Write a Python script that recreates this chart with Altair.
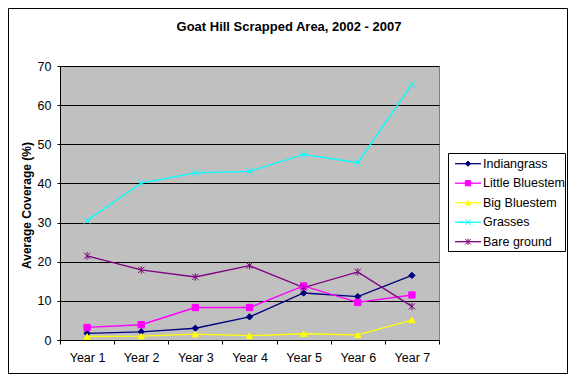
import altair as alt
import pandas as pd

title_text = "Goat Hill Scrapped Area, 2002 - 2007"
years = ["Year 1", "Year 2", "Year 3", "Year 4", "Year 5", "Year 6", "Year 7"]
series = ["Indiangrass", "Little Bluestem", "Big Bluestem", "Grasses", "Bare ground"]
indiangrass = [1.7, 2.1, 3.0, 5.9, 12.0, 11.1, 16.5]
little_bluestem = [3.2, 3.9, 8.3, 8.3, 13.8, 9.6, 11.5]
big_bluestem = [0.9, 1.0, 1.5, 1.1, 1.6, 1.3, 5.1]
grasses = [30.5, 40.1, 42.7, 43.1, 47.4, 45.3, 65.3]
bare_ground = [21.5, 17.9, 16.1, 19.0, 13.4, 17.4, 8.6]
y_ticks = [0, 10, 20, 30, 40, 50, 60, 70]

colors = ["#000080", "#FF00FF", "#FFFF00", "#00FFFF", "#800080"]
shapes = ["diamond", "square", "triangle-up",
          "M-1,-1L1,1M-1,1L1,-1",
          "M-1,-1L1,1M-1,1L1,-1M0,-1.2L0,1.2"]

values = [indiangrass, little_bluestem, big_bluestem, grasses, bare_ground]
rows = []
for s, vals in zip(series, values):
    for y, v in zip(years, vals):
        rows.append({"Year": y, "Series": s, "Value": v})
df = pd.DataFrame(rows)
leg_df = pd.DataFrame({"Series": series})

FONT = "Liberation Sans"
W, H = 379, 274

sc_stroke = alt.Scale(domain=series, range=colors)
sc_shape = alt.Scale(domain=series, range=shapes)

x_enc = alt.X("Year:N", sort=years,
              scale=alt.Scale(type="band", domain=years, paddingInner=0, paddingOuter=0),
              bandPosition=0.5,
              axis=alt.Axis(title=None, tickBand="extent", grid=False, labelAngle=0,
                            tickSize=4, labelPadding=7, domainColor="black",
                            tickColor="black", labelFont=FONT, labelFontSize=12.5,
                            labelColor="black"))
y_enc = alt.Y("Value:Q", scale=alt.Scale(domain=[0, 70], nice=False),
              axis=alt.Axis(values=y_ticks, tickCount=8, labelOverlap=False,
                            title="Average Coverage (%)",
                            titleFont=FONT, titleFontSize=12, titleFontWeight="bold",
                            titleColor="black", titleX=-27, titleY=139,
                            labelFont=FONT, labelFontSize=12.5, labelColor="black",
                            tickSize=3, labelPadding=6, domainColor="black",
                            tickColor="black", gridColor="black", gridOpacity=1,
                            gridWidth=1))

base = alt.Chart(df)
lines = base.mark_line(strokeWidth=1.3).encode(
    x=x_enc, y=y_enc,
    stroke=alt.Stroke("Series:N", scale=sc_stroke, legend=None),
    order=alt.Order("Year:N"),
)
points = base.mark_point(filled=True, size=40, strokeWidth=1, opacity=1).encode(
    x=x_enc, y=y_enc,
    shape=alt.Shape("Series:N", scale=sc_shape, legend=None),
    fill=alt.Fill("Series:N", scale=sc_stroke, legend=None),
    stroke=alt.Stroke("Series:N", scale=sc_stroke, legend=None),
)
main = alt.layer(lines, points)

one = alt.Data(values=[{"t": title_text}])
frame = alt.Chart(one).mark_rect(fill="transparent", stroke="black", strokeWidth=1).encode(
    x=alt.value(-51.5), x2=alt.value(507.5), y=alt.value(-57.5), y2=alt.value(307.5))
title = alt.Chart(one).mark_text(font=FONT, fontSize=13, fontWeight="bold",
                                 color="black", align="center",
                                 baseline="alphabetic").encode(
    x=alt.value(229), y=alt.value(-35), text="t:N")
box = alt.Chart(one).mark_rect(fill="white", stroke="black", strokeWidth=1).encode(
    x=alt.value(388.5), x2=alt.value(505.5), y=alt.value(87.5), y2=alt.value(185.5))

leg_y = alt.Y("Series:N", scale=alt.Scale(type="point", domain=series,
                                          range=[97.7, 175.7], padding=0), axis=None)
leg_base = alt.Chart(leg_df)
leg_rule = leg_base.mark_rule(strokeWidth=1.3).encode(
    x=alt.value(395), x2=alt.value(421), y=leg_y,
    stroke=alt.Stroke("Series:N", scale=sc_stroke, legend=None))
leg_pts = leg_base.mark_point(filled=True, size=28, strokeWidth=1, opacity=1).encode(
    x=alt.value(408), y=leg_y,
    shape=alt.Shape("Series:N", scale=sc_shape, legend=None),
    fill=alt.Fill("Series:N", scale=sc_stroke, legend=None),
    stroke=alt.Stroke("Series:N", scale=sc_stroke, legend=None))
leg_text = leg_base.mark_text(align="left", baseline="middle", font=FONT,
                              fontSize=12.5, color="black").encode(
    x=alt.value(423), y=leg_y, text="Series:N")
legend = alt.layer(leg_rule, leg_pts, leg_text)

chart = alt.layer(frame, title, main, box, legend).resolve_scale(y="independent").properties(
    width=W, height=H,
    autosize=alt.AutoSizeParams(type="none"),
    padding={"left": 52, "top": 58, "right": 129, "bottom": 34},
    background="white",
).configure_view(fill="#C0C0C0", stroke="#808080", strokeWidth=1)

chart.save("out.html", embed_options={"renderer": "svg", "actions": False})
